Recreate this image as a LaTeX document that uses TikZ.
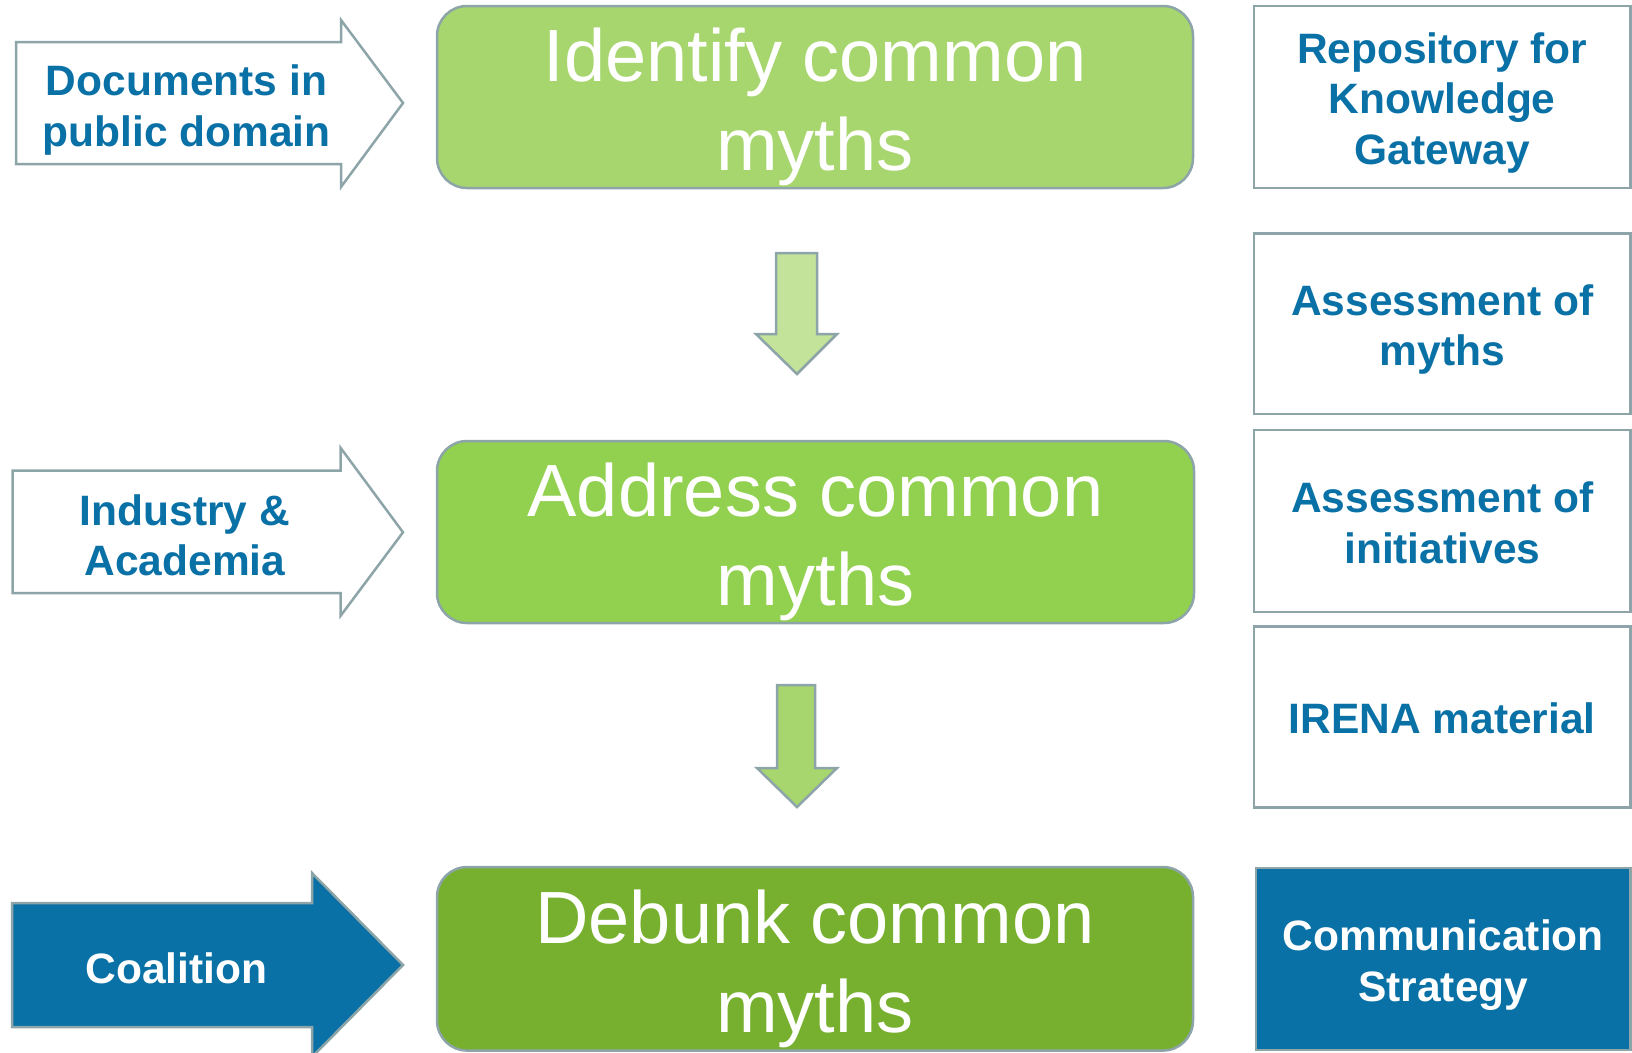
\documentclass[tikz,border=0pt]{standalone}
\usepackage{fontspec}
\setmainfont{Liberation Sans}

\definecolor{irenablue}{HTML}{0A71A6}
\definecolor{edgegray}{HTML}{8DA4A8}
\definecolor{greenlight}{HTML}{A7D66E}
\definecolor{greenmid}{HTML}{92D050}
\definecolor{greendark}{HTML}{77B02F}
\definecolor{greenpale}{HTML}{C3E39B}

% line box like a slide text frame
\newcommand{\topstrut}{\rule{0pt}{1.0em}}
\newcommand{\botstrut}{\rule[-0.212em]{0pt}{0.212em}}

\begin{document}
\begin{tikzpicture}[x=1pt,y=-1pt]
   \tikzstyle{every node}=[inner sep=0pt, align=center]
   \tikzstyle{stage}=[draw=edgegray, line width=2.5pt, rounded corners=30pt, minimum width=756pt, minimum height=182pt, text=white, font=\fontsize{74}{89.3}\selectfont]
   \tikzstyle{outcome}=[draw=edgegray, line width=2.5pt, fill=white, minimum width=376.5pt, minimum height=181pt, text=irenablue, font=\bfseries\fontsize{42.5}{50.5}\selectfont]
   \tikzstyle{inputtext}=[text=irenablue, font=\bfseries\fontsize{42.5}{50.5}\selectfont]
   \tikzstyle{inarrow}=[draw=edgegray, line width=2.5pt, fill=white]
   \tikzstyle{downarrow}=[draw=edgegray, line width=2.5pt]

\useasboundingbox (0,0) rectangle (1632,1052);

% input arrows
\draw[inarrow] (16,42) -- (341,42) -- (341,20) -- (403,103) -- (341,187) -- (341,164) -- (16,164) -- cycle;
\draw[inarrow] (12.7,470.7) -- (340.7,470.7) -- (340.7,448) -- (403,532.3) -- (340.7,615.7) -- (340.7,593) -- (12.7,593) -- cycle;
\draw[inarrow, fill=irenablue] (12,903) -- (312,903) -- (312,873) -- (403,965) -- (312,1057) -- (312,1027) -- (12,1027) -- cycle;

\node[inputtext] (docs) at (186.5,104.4) {\topstrut Documents in\\public domain\botstrut};
\node[inputtext] (industry) at (185,533.9) {\topstrut Industry \&\\Academia\botstrut};
\node[inputtext, text=white] (coalition) at (176.5,967) {\topstrut Coalition\botstrut};

% stages
\node[stage, fill=greenlight] (identify) at (815,97) {\topstrut Identify common\\myths\botstrut};
\node[stage, fill=greenmid, minimum width=757pt] (address) at (815.5,532) {\topstrut Address common\\myths\botstrut};
\node[stage, fill=greendark, minimum height=183.5pt] (debunk) at (815,958.8) {\topstrut Debunk common\\myths\botstrut};

% down arrows
\draw[downarrow, fill=greenpale] (776,253) -- (817,253) -- (817,334) -- (837,334) -- (797,374) -- (756,334) -- (776,334) -- cycle;
\draw[downarrow, fill=greenlight] (777,685) -- (815,685) -- (815,768) -- (837,768) -- (797,807) -- (757,768) -- (777,768) -- cycle;

% outcomes
\node[outcome, minimum height=182pt] (repository) at (1442.25,97) {\topstrut Repository for\\Knowledge\\Gateway\botstrut};
\node[outcome, minimum height=180.7pt] (assessmyths) at (1442.25,323.7) {\topstrut Assessment of\\myths\botstrut};
\node[outcome, minimum height=181.7pt] (assessinit) at (1442.25,521) {\topstrut Assessment of\\initiatives\botstrut};
\node[outcome] (irena) at (1442.25,717.2) {\topstrut IRENA material\botstrut};
\node[outcome, fill=irenablue, text=white, minimum width=374.5pt, minimum height=182pt] (strategy) at (1443.25,959) {\topstrut Communication\\Strategy\botstrut};

\end{tikzpicture}
\end{document}
